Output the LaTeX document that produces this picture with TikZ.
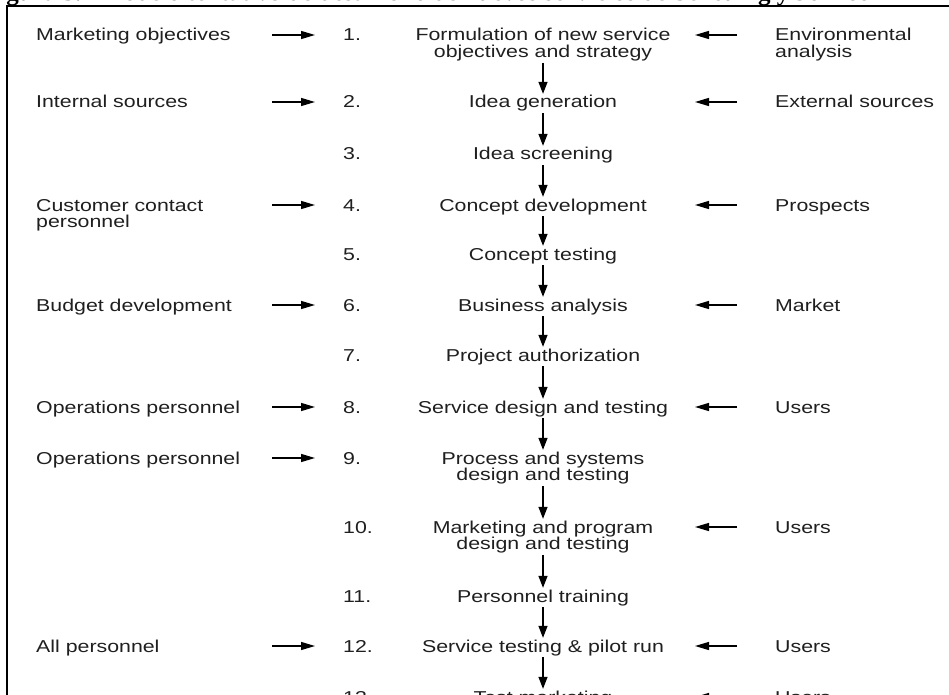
\documentclass[tikz,border=0pt]{standalone}
\usepackage{fontspec}
\setmainfont{Liberation Sans}[FakeStretch=1.24]
\newfontfamily\titlefont{Liberation Serif}
\usetikzlibrary{arrows.meta}
\tikzset{
  txt/.style={inner sep=0pt, font=\fontsize{17.2pt}{16.5pt}\selectfont, text=black!88},
  lbl/.style={txt, anchor=base west, align=left},
  num/.style={txt, anchor=base west},
  stepbox/.style={txt, anchor=base, align=center, inner sep=1.5pt},
  inarrow/.style={-{Triangle[length=14pt,width=8pt]}, line width=1.3pt},
  flow/.style={-{Triangle[length=12pt,width=9pt]}, line width=1.3pt},
  frame/.style={line width=2.3pt},
}
\begin{document}
\begin{tikzpicture}[x=1pt,y=-1pt]
\useasboundingbox (0,0) rectangle (949,695);
\clip (0,0) rectangle (949,695);
% cut-off title and frame
\node[anchor=base west, inner sep=0pt, font=\titlefont\bfseries\fontsize{25pt}{26pt}\selectfont] (title) at (-16,0.8) {Figura 3.1 Modelo tentativo de desarrollo de nuevos servicios de Scheuing y Johnson};
\draw[frame] (7,720) -- (7,6) -- (960,6);

% centre column (base anchor = baseline of the last line)
\node[stepbox] (s1) at (543,57.5) {Formulation of new service\\objectives and strategy};
\node[stepbox] (s2) at (543,108) {Idea generation};
\node[stepbox] (s3) at (543,160) {Idea screening};
\node[stepbox] (s4) at (543,211) {Concept development};
\node[stepbox] (s5) at (543,260) {Concept testing};
\node[stepbox] (s6) at (543,311) {Business analysis};
\node[stepbox] (s7) at (543,361) {Project authorization};
\node[stepbox] (s8) at (543,413) {Service design and testing};
\node[stepbox] (s9) at (543,480.5) {Process and systems\\design and testing};
\node[stepbox] (s10) at (543,549.5) {Marketing and program\\design and testing};
\node[stepbox] (s11) at (543,602) {Personnel training};
\node[stepbox] (s12) at (543,652) {Service testing \& pilot run};
\node[stepbox] (s13) at (543,703) {Test marketing};

% numbers
\node[num] (n1) at (343,41) {1.};
\node[num] (n2) at (343,108) {2.};
\node[num] (n3) at (343,160) {3.};
\node[num] (n4) at (343,211) {4.};
\node[num] (n5) at (343,260) {5.};
\node[num] (n6) at (343,311) {6.};
\node[num] (n7) at (343,361) {7.};
\node[num] (n8) at (343,413) {8.};
\node[num] (n9) at (343,464) {9.};
\node[num] (n10) at (343,533) {10.};
\node[num] (n11) at (343,602) {11.};
\node[num] (n12) at (343,652) {12.};
\node[num] (n13) at (343,703) {13.};

% left inputs
\node[lbl] (l1) at (36,41) {Marketing objectives};
\node[lbl] (l2) at (36,108) {Internal sources};
\node[lbl] (l4) at (36,227.5) {Customer contact\\personnel};
\node[lbl] (l6) at (36,311) {Budget development};
\node[lbl] (l8) at (36,413) {Operations personnel};
\node[lbl] (l9) at (36,464) {Operations personnel};
\node[lbl] (l12) at (36,652) {All personnel};

% right inputs
\node[lbl] (r1) at (775,57.5) {Environmental\\analysis};
\node[lbl] (r2) at (775,108) {External sources};
\node[lbl] (r4) at (775,211) {Prospects};
\node[lbl] (r6) at (775,311) {Market};
\node[lbl] (r8) at (775,413) {Users};
\node[lbl] (r10) at (775,533) {Users};
\node[lbl] (r12) at (775,652) {Users};
\node[lbl] (r13) at (775,703) {Users};

% left arrows
\foreach \r/\y in {1/35,2/102,4/205,6/305,8/407,9/458,12/646}{
  \coordinate (la\r s) at (272,\y);
  \coordinate (la\r e) at (315,\y);
  \draw[inarrow] (la\r s) -- (la\r e);
}
% right arrows
\foreach \r/\y in {1/35,2/102,4/205,6/305,8/407,10/527,12/646,13/697}{
  \coordinate (ra\r s) at (737,\y);
  \coordinate (ra\r e) at (695,\y);
  \draw[inarrow] (ra\r s) -- (ra\r e);
}

% flow arrows
\foreach \a/\b in {1/2,2/3,3/4,4/5,5/6,6/7,7/8,8/9,9/10,10/11,11/12,12/13}{
  \draw[flow] (s\a.south) -- (s\b.north);
}
\end{tikzpicture}
\end{document}
